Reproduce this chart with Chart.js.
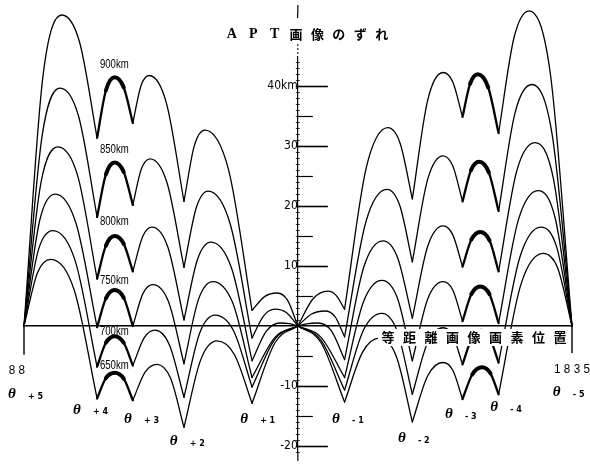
<!DOCTYPE html>
<html><head><meta charset="utf-8">
<script src="https://cdn.jsdelivr.net/npm/chart.js@4"></script>
<style>html,body{margin:0;padding:0;background:#fff}canvas{display:block}</style>
</head><body>
<canvas id="c" width="590" height="465"></canvas>
<script>
// x: equidistant image pixel position (88 .. 1835); y: APT image displacement (km)
const xMin = 88, xMax = 1835, centerPos = 961;
const cuspPositions = [88, 321, 435, 598, 815, 961, 1110, 1326, 1486, 1601, 1835];
const cuspSigns = ['+ 5','+ 4','+ 3','+ 2','+ 1','','- 1','- 2','- 3','- 4','- 5'];
const altitudes = ['900km','850km','800km','750km','700km','650km'];
const yTickValues = [-20, -10, 10, 20, 30, 40];

// each curve: list of arcs between consecutive cusps, each arc = [position, km] points
const alt900 = [
 [[88,0],[148,41.5],[209,51.9],[265,47.4],[321,31.4]],
 [[321,31.4],[349,39.3],[377,41.5],[406,39.8],[435,33.9]],
 [[435,33.9],[461,40.1],[487,41.8],[542,37.2],[598,20.8]],
 [[598,20.8],[631,30.1],[665,32.7],[740,26.1],[815,2.6]],
 [[815,2.6],[855,4.9],[895,5.5],[928,4.3],[961,0]],
 [[961,0],[1009,4.5],[1057,5.8],[1083,5.1],[1110,2.8]],
 [[1110,2.8],[1179,26.4],[1248,33.1],[1287,30.5],[1326,21.2]],
 [[1326,21.2],[1375,37.7],[1424,42.3],[1455,40.7],[1486,34.9]],
 [[1486,34.9],[1510,40.4],[1535,42.0],[1568,39.8],[1601,32.2]],
 [[1601,32.2],[1650,48.1],[1698,52.6],[1766,42.1],[1835,0]]
];
const alt850 = [
 [[88,0],[146,31.8],[203,39.7],[262,35.0],[321,18.2]],
 [[321,18.2],[349,25.3],[377,27.3],[406,25.7],[435,20.2]],
 [[435,20.2],[462,26.2],[490,27.9],[544,23.9],[598,9.8]],
 [[598,9.8],[637,19.7],[675,22.5],[745,17.1],[815,-2.0]],
 [[815,-2.0],[852,1.7],[888,2.8],[925,2.2],[961,0]],
 [[961,0],[1005,2.0],[1048,2.5],[1079,1.6],[1110,-1.8]],
 [[1110,-1.8],[1178,17.4],[1245,22.8],[1286,20.1],[1326,10.7]],
 [[1326,10.7],[1375,24.5],[1424,28.4],[1455,26.7],[1486,20.8]],
 [[1486,20.8],[1513,26.0],[1539,27.4],[1570,25.6],[1601,19.2]],
 [[1601,19.2],[1654,35.7],[1707,40.3],[1771,32.2],[1835,0]]
];
const alt800 = [
 [[88,0],[142,23.9],[196,29.9],[259,25.1],[321,7.9]],
 [[321,7.9],[349,13.4],[377,15.0],[406,13.7],[435,9.1]],
 [[435,9.1],[466,14.9],[496,16.5],[547,13.1],[598,1.0]],
 [[598,1.0],[641,11.1],[684,14.0],[750,9.6],[815,-5.8]],
 [[815,-5.8],[860,-0.9],[904,0.5],[933,0.4],[961,0]],
 [[961,0],[993,0.4],[1025,0.5],[1068,-0.8],[1110,-5.6]],
 [[1110,-5.6],[1171,9.8],[1232,14.2],[1279,11.4],[1326,1.3]],
 [[1326,1.3],[1375,13.3],[1424,16.7],[1455,15.2],[1486,9.9]],
 [[1486,9.9],[1514,14.4],[1542,15.7],[1572,14.3],[1601,9.1]],
 [[1601,9.1],[1659,25.9],[1717,30.6],[1776,24.5],[1835,0]]
];
const alt750 = [
 [[88,0],[138,17.6],[187,22.0],[254,17.1],[321,-0.2]],
 [[321,-0.2],[349,4.6],[377,6.0],[406,4.7],[435,0]],
 [[435,0],[467,5.4],[499,6.9],[549,4.0],[598,-6.3]],
 [[598,-6.3],[644,4.4],[690,7.4],[753,3.9],[815,-8.6]],
 [[815,-8.6],[888,-1.9],[961,0]],
 [[961,0],[1035,-1.9],[1110,-8.6]],
 [[1110,-8.6],[1170,4.0],[1229,7.6],[1278,4.7],[1326,-5.8]],
 [[1326,-5.8],[1375,4.5],[1424,7.4],[1455,6.0],[1486,0.8]],
 [[1486,0.8],[1514,5.3],[1542,6.6],[1572,5.3],[1601,0.5]],
 [[1601,0.5],[1664,17.7],[1727,22.6],[1781,18.1],[1835,0]]
];
const alt700 = [
 [[88,0],[134,12.7],[180,15.9],[251,10.9],[321,-6.8]],
 [[321,-6.8],[349,-2.8],[377,-1.7],[406,-2.8],[435,-6.6]],
 [[435,-6.6],[471,-2.0],[506,-0.7],[552,-3.2],[598,-11.9]],
 [[598,-11.9],[648,-1.2],[697,1.8],[756,-0.8],[815,-10.2]],
 [[815,-10.2],[888,-2.2],[961,0]],
 [[961,0],[1035,-2.4],[1110,-10.7]],
 [[1110,-10.7],[1170,-0.7],[1229,2.1],[1278,-0.9],[1326,-11.4]],
 [[1326,-11.4],[1375,-2.7],[1424,-0.3],[1455,-1.6],[1486,-6.4]],
 [[1486,-6.4],[1516,-2.0],[1545,-0.8],[1573,-2.0],[1601,-6.1]],
 [[1601,-6.1],[1669,11.5],[1736,16.5],[1786,13.2],[1835,0]]
];
const alt650 = [
 [[88,0],[131,8.9],[174,11.1],[248,6.0],[321,-12.1]],
 [[321,-12.1],[349,-8.7],[377,-7.8],[406,-8.8],[435,-12.4]],
 [[435,-12.4],[474,-7.7],[512,-6.4],[555,-8.7],[598,-16.9]],
 [[598,-16.9],[651,-5.7],[703,-2.5],[759,-4.8],[815,-12.9]],
 [[815,-12.9],[888,-2.8],[961,0]],
 [[961,0],[1035,-2.8],[1110,-12.7]],
 [[1110,-12.7],[1167,-4.4],[1223,-2.0],[1275,-5.1],[1326,-16.0]],
 [[1326,-16.0],[1375,-8.3],[1424,-6.1],[1455,-7.4],[1486,-12.2]],
 [[1486,-12.2],[1517,-8.1],[1548,-6.9],[1575,-7.9],[1601,-11.4]],
 [[1601,-11.4],[1672,6.9],[1743,12.1],[1789,9.7],[1835,0]]
];
const darkArcs = [1, 8];

const curves = [alt900, alt850, alt800, alt750, alt700, alt650];
const datasets = curves.map((arcs, ci) => {
  const data = [], widths = [];
  arcs.forEach((arc, ai) => {
    const dark = darkArcs.includes(ai);
    const n = arc.length - 1;
    arc.forEach((p, pi) => {
      data.push({x: p[0], y: p[1]});
      widths.push(dark ? ((pi === 0 || pi === n - 1) ? 2.3 : 4.0) : 1.3);
    });
    data.push({x: arc[n][0], y: null});
    widths.push(1.3);
  });
  return {
    label: altitudes[ci], data,
    borderColor: '#000', borderWidth: 1.3, pointRadius: 0,
    cubicInterpolationMode: 'monotone', spanGaps: false, clip: false,
    borderCapStyle: 'round', borderJoinStyle: 'round',
    segment: { borderWidth: ctx => widths[ctx.p0DataIndex] || 1.3 }
  };
});

function txt(ctx, s, x, y, font, align, sx) {
  ctx.save();
  ctx.font = font; ctx.textAlign = align || 'left'; ctx.textBaseline = 'middle';
  ctx.fillStyle = '#000';
  ctx.translate(x, y); ctx.scale(sx || 1, 1);
  ctx.fillText(s, 0, 0);
  ctx.restore();
}
function seg(ctx, x1, y1, x2, y2) { ctx.beginPath(); ctx.moveTo(x1, y1); ctx.lineTo(x2, y2); ctx.stroke(); }

const altLabelY = [43.6, 29.4, 17.4, 7.6, -1.0, -6.6];
const thetaLabelPos = [[37,-11.4],[244,-14.0],[407,-15.5],[553,-19.3],[777,-15.5],null,[1070,-15.5],[1280,-18.8],[1430,-14.7],[1574,-13.6],[1774,-11.1]];

const deco = {
  id: 'deco',
  beforeDatasetsDraw(chart) {
    const {ctx, scales: {x, y}} = chart;
    const ax = x.getPixelForValue(centerPos);
    ctx.save();
    ctx.strokeStyle = '#000';
    for (let v = -21; v <= 44; v++) {
      const py = Math.round(y.getPixelForValue(v)) + 0.5;
      if (v <= 40 && v !== 0 && v % 10 === 0) { ctx.lineWidth = 1.6; seg(ctx, ax, py, ax + 30, py); }
      else if (v <= 40 && v !== 0 && v % 5 === 0) { ctx.lineWidth = 1.2; seg(ctx, ax, py, ax + 15, py); }
      ctx.lineWidth = 0.8; seg(ctx, ax - 2, py, ax + 2, py);
    }
    ctx.lineWidth = 1.4;
    seg(ctx, x.getPixelForValue(xMin), y.getPixelForValue(0), x.getPixelForValue(xMin), y.getPixelForValue(-4.8));
    seg(ctx, x.getPixelForValue(xMax), y.getPixelForValue(0.5), x.getPixelForValue(xMax), y.getPixelForValue(-4.5));
    ctx.lineWidth = 1.2;
    seg(ctx, ax, y.getPixelForValue(52.2), ax, 5);
    seg(ctx, ax, y.getPixelForValue(-21), ax, 461);
    ctx.restore();
  },
  afterDatasetsDraw(chart) {
    const {ctx, scales: {x, y}} = chart;
    const ax = x.getPixelForValue(centerPos);
    // title over the axis
    ctx.save();
    ctx.fillStyle = '#fff';
    ctx.fillRect(ax - 6, 18, 12, 38);
    ctx.strokeStyle = '#000'; ctx.lineWidth = 1; ctx.setLineDash([2, 2]);
    seg(ctx, ax, 44, ax, 56);
    ctx.restore();
    const title = ['A','P','T','画','像','の','ず','れ'];
    title.forEach((c, i) => {
      const cx = ax - 66 + i * 21.4;
      const f = i < 3 ? 'bold 14px "Liberation Serif", serif' : 'bold 13px "Noto Sans CJK JP", sans-serif';
      txt(ctx, c, cx, 34, f, 'center');
    });
    // horizontal axis label
    const lab = ['等','距','離','画','像','画','素','位','置'];
    const ly = y.getPixelForValue(0) + 11;
    ctx.save(); ctx.fillStyle = '#fff'; ctx.fillRect(378, ly - 8, 191, 17); ctx.restore();
    lab.forEach((c, i) => txt(ctx, c, 388 + i * 21.5, ly, 'bold 13px "Noto Sans CJK JP", sans-serif', 'center'));
    // altitude labels
    altitudes.forEach((s, i) => {
      txt(ctx, s, x.getPixelForValue(330), y.getPixelForValue(altLabelY[i]), '12px "Liberation Sans", sans-serif', 'left', 0.8);
    });
    // theta labels
    cuspSigns.forEach((s, i) => {
      const p = thetaLabelPos[i];
      if (!p) return;
      const px = x.getPixelForValue(p[0]), py = y.getPixelForValue(p[1]);
      txt(ctx, 'θ', px, py, 'italic bold 15px "Liberation Serif", serif', 'left');
      txt(ctx, s, px + 20, py + 2.5, 'bold 8px "DejaVu Sans", sans-serif', 'left');
    });
    // end positions
    txt(ctx, '8 8', x.getPixelForValue(xMin) + 1, y.getPixelForValue(-7.4), '13px "Liberation Sans", sans-serif', 'right', 0.9);
    txt(ctx, '1 8 3 5', x.getPixelForValue(xMax), y.getPixelForValue(-7.3), '13px "Liberation Sans", sans-serif', 'center', 0.9);
  }
};

new Chart(document.getElementById('c'), {
  type: 'line',
  data: { datasets },
  options: {
    responsive: false, animation: false, events: [],
    layout: { padding: { left: 24, right: 18, top: 12, bottom: 10 } },
    plugins: { legend: { display: false }, tooltip: { enabled: false }, title: { display: false } },
    scales: {
      x: {
        type: 'linear', min: xMin, max: xMax, position: { y: 0 },
        grid: { display: false, drawTicks: false },
        border: { display: true, color: '#000', width: 1.6 },
        ticks: { display: false }
      },
      y: {
        type: 'linear', min: -21, max: 52.2, position: { x: centerPos },
        grid: { display: false, drawTicks: false },
        border: { display: true, color: '#000', width: 1.2 },
        afterBuildTicks: s => { s.ticks = yTickValues.map(v => ({ value: v })); },
        ticks: {
          padding: 6, color: '#000',
          font: { family: '"Liberation Sans Narrow", "DejaVu Sans Condensed", Roboto, sans-serif', size: 12 },
          callback: v => v === 40 ? '40km' : String(v)
        }
      }
    }
  },
  plugins: [deco]
});
</script>
</body></html>
